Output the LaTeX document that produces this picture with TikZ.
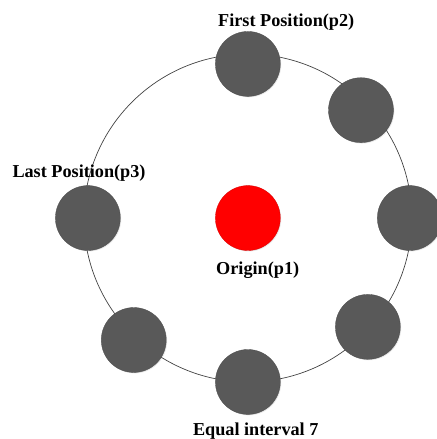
\documentclass[tikz,border=0pt]{standalone}
\usepackage{fontspec}
\setmainfont{Liberation Serif}
\usepackage{xcolor}
\usepackage{tikz}
\usetikzlibrary{shadows}
\definecolor{dotgray}{RGB}{89, 89, 89}
\definecolor{ringgray}{RGB}{64, 64, 64}
\tikzset{
  posdot/.style={circle, fill=dotgray, draw=dotgray!85!black, line width=0.3pt,
    minimum size=1.98cm, inner sep=0pt,
    drop shadow={opacity=0.18, shadow xshift=0.8pt, shadow yshift=-0.8pt}},
  origindot/.style={posdot, fill=red, draw=red!85!black},
  lbl/.style={font=\fontsize{15.8}{19}\selectfont\bfseries, anchor=base, inner sep=0pt}
}

\begin{document}
\begin{tikzpicture}
\useasboundingbox (-7.56,-6.74) rectangle (5.76,6.65);

% Ring of positions
\draw[ringgray, line width=0.6pt] (0,0) circle (5.0);

% Origin
\node[origindot] (p1) at (0,0) {};
\node[lbl] (p1label) at (0.30,-1.71) {Origin(p1)};

% Positions on the ring
\node[posdot] (p2) at (0,4.70) {};
\node[posdot] (q1) at (3.45,3.29) {};
\node[posdot] (q2) at (4.94,0) {};
\node[posdot] (q3) at (3.66,-3.32) {};
\node[posdot] (q4) at (0,-5.0) {};
\node[posdot] (q5) at (-3.48,-3.72) {};
\node[posdot] (p3) at (-4.88,0) {};

% Labels
\node[lbl] (p2label) at (1.17,5.85) {First Position(p2)};
\node[lbl] (p3label) at (-5.15,1.25) {Last Position(p3)};
\node[lbl] (steplabel) at (0.24,-6.62) {Equal interval 7};
\end{tikzpicture}
\end{document}
